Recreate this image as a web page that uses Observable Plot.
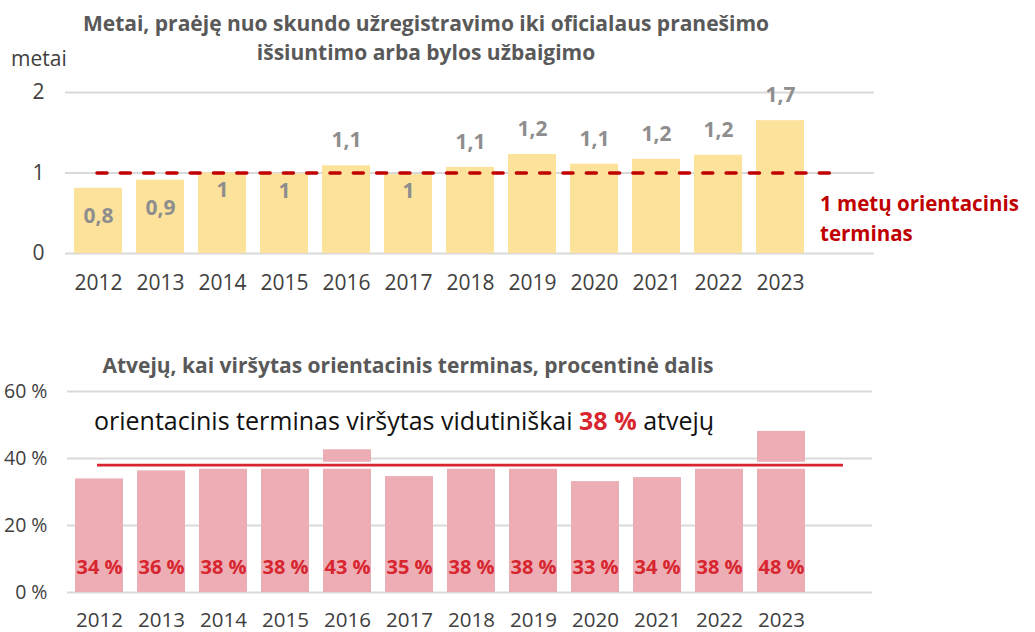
<!DOCTYPE html>
<html>
<head>
<meta charset="utf-8">
<script src="https://cdn.jsdelivr.net/npm/d3@7"></script>
<script src="https://cdn.jsdelivr.net/npm/@observablehq/plot@0.6"></script>
<style>
  html, body { margin: 0; padding: 0; background: #fff; }
  #root { position: relative; width: 1035px; height: 632px; overflow: hidden; font-family: "Open Sans", sans-serif; }
  #root svg { position: absolute; left: 0; }
  .t { position: absolute; white-space: nowrap; line-height: 1; }
</style>
</head>
<body>
<div id="root">
  <div class="t" style="left:0;width:852px;text-align:center;top:9px;font-weight:700;font-size:21px;color:#595959;line-height:29px;">Metai, praėję nuo skundo užregistravimo iki oficialaus pranešimo<br>išsiuntimo arba bylos užbaigimo</div>
  <div class="t" style="left:11px;top:48px;font-size:21px;color:#404040;">metai</div>
  <div class="t" style="left:820px;top:188px;font-weight:700;font-size:20.5px;color:#C00000;line-height:30px;">1 metų orientacinis<br>terminas</div>
  <div class="t" style="left:0;width:816px;text-align:center;top:355px;font-weight:700;font-size:21px;color:#595959;">Atvejų, kai viršytas orientacinis terminas, procentinė dalis</div>
  <div class="t" style="left:94px;top:408px;font-size:25px;color:#111;">orientacinis terminas viršytas vidutiniškai <span style="color:#D7262F;font-weight:700;">38 %</span> atvejų</div>
</div>
<script>
// ---- data ----
const years = ["2012","2013","2014","2015","2016","2017","2018","2019","2020","2021","2022","2023"];
const durationValues = [0.81, 0.91, 1.0, 0.99, 1.09, 0.98, 1.07, 1.23, 1.11, 1.17, 1.22, 1.65];
const durationLabels = ["0,8","0,9","1","1","1,1","1","1,1","1,2","1,1","1,2","1,2","1,7"];
const durationTicks = [0, 1, 2];
const targetYears = 1;

const shareValues = [33.9, 36.3, 37.6, 37.7, 42.6, 34.6, 37.7, 37.8, 33.1, 34.3, 37.7, 48.1];
const shareLabels = ["34 %","36 %","38 %","38 %","43 %","35 %","38 %","38 %","33 %","34 %","38 %","48 %"];
const shareTicks = [0, 20, 40, 60];
const averageShare = 38;

const duration = years.map((y, i) => ({year: y, value: durationValues[i], label: durationLabels[i]}));
const share = years.map((y, i) => ({year: y, value: shareValues[i], label: shareLabels[i]}));

const root = document.getElementById("root");

// ---- top chart ----
const chartTop = Plot.plot({
  width: 1035,
  height: 300,
  marginTop: 92,
  marginBottom: 47,
  marginLeft: 65,
  marginRight: 161,
  style: {fontFamily: "'Open Sans', sans-serif", color: "#404040", background: "transparent", overflow: "visible"},
  x: {domain: years, range: [65, 813], paddingInner: 0.23, paddingOuter: 0.115, label: null},
  y: {domain: [0, 2], label: null},
  marks: [
    Plot.ruleY(durationTicks, {stroke: "#d9d9d9", strokeWidth: 2}),
    Plot.barY(duration, {x: "year", y: "value", fill: "#FCE29B"}),
    Plot.ruleY([targetYears], {stroke: "#C00000", strokeWidth: 3.5, strokeDasharray: "10,13.3", strokeLinecap: "round", insetLeft: 32, insetRight: 35}),
    Plot.text(duration.filter(d => d.value < 0.95), {x: "year", y: "value", text: "label", dy: 28, fill: "#8E8E8E", fontWeight: 700, fontSize: 21}),
    Plot.text(duration.filter(d => d.value >= 0.95 && d.value <= 1.0), {x: "year", y: "value", text: "label", dy: 17, fill: "#8E8E8E", fontWeight: 700, fontSize: 21}),
    Plot.text(duration.filter(d => d.value > 1.0), {x: "year", y: "value", text: "label", dy: -25, fill: "#8E8E8E", fontWeight: 700, fontSize: 21}),
    Plot.axisX({tickSize: 0, tickPadding: 22, fontSize: 21, label: null}),
    Plot.axisY({ticks: durationTicks, tickFormat: d => String(d).replace(".", ","), tickSize: 0, tickPadding: 21, fontSize: 21, label: null})
  ]
});
chartTop.style.top = "0px";
root.appendChild(chartTop);

// ---- bottom chart ----
const chartBottom = Plot.plot({
  width: 1035,
  height: 292,
  marginTop: 51,
  marginBottom: 40,
  marginLeft: 67,
  marginRight: 163,
  style: {fontFamily: "'Open Sans', sans-serif", color: "#404040", background: "transparent", overflow: "visible"},
  x: {domain: years, range: [67.7, 811.7], paddingInner: 0.23, paddingOuter: 0.115, label: null},
  y: {domain: [0, 60], label: null},
  marks: [
    Plot.ruleY(shareTicks, {stroke: "#d9d9d9", strokeWidth: 2}),
    Plot.barY(share, {x: "year", y: "value", fill: "#EDADB4"}),
    Plot.ruleY([averageShare], {stroke: "#fff", strokeWidth: 7, insetLeft: 30, insetRight: 29}),
    Plot.ruleY([averageShare], {stroke: "#D7262F", strokeWidth: 2.8, insetLeft: 30, insetRight: 29}),
    Plot.text(share, {x: "year", y: () => 0, text: "label", dy: -25, fill: "#D7262F", fontWeight: 700, fontSize: 20, ariaLabel: "share-labels"}),
    Plot.axisX({tickSize: 0, tickPadding: 20, fontSize: 20.5, label: null}),
    Plot.axisY({ticks: shareTicks, tickFormat: d => d + " %", tickSize: 0, tickPadding: 20, fontSize: 19.5, label: null})
  ]
});
chartBottom.style.top = "340px";
root.appendChild(chartBottom);
// condensed look for the percentage labels
chartBottom.querySelectorAll('g[aria-label="share-labels"] text').forEach(t => {
  t.setAttribute("textLength", "39");
  t.setAttribute("lengthAdjust", "spacingAndGlyphs");
});
// keep overlay text on top
root.querySelectorAll(".t").forEach(el => root.appendChild(el));
</script>
</body>
</html>
